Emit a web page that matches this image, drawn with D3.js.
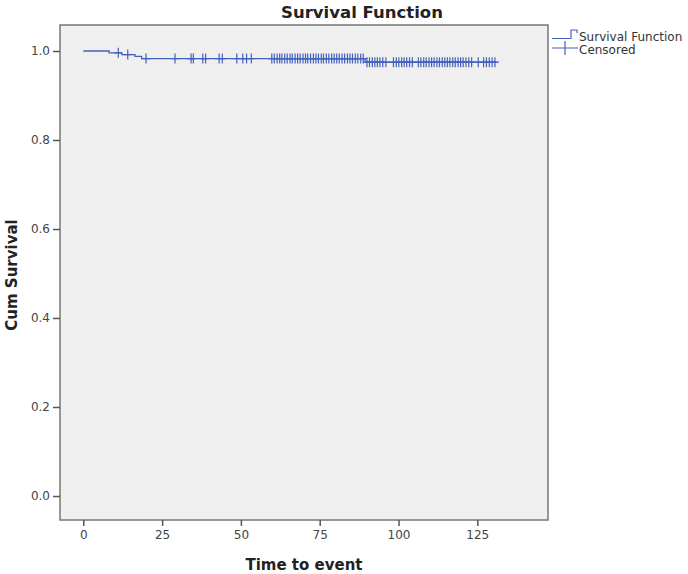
<!DOCTYPE html>
<html><head><meta charset="utf-8">
<script src="https://cdn.jsdelivr.net/npm/d3@7/dist/d3.min.js"></script>
<style>body{margin:0;background:#fff}svg{display:block}</style>
</head><body>
<svg id="c" width="688" height="574"></svg>
<script>
// Kaplan-Meier step data (event times and survival after each event)
const stepTimes = [0, 8.2, 12.2, 16.4, 18.5, 89.4];
const stepSurv  = [1.0, 0.996, 0.992, 0.988, 0.983, 0.975];
const endTime = 131.2;
// Censored observation times
const censorTimes = [11.1, 14.1, 19.9, 29.1, 34.2, 34.9, 37.9, 38.8, 43.1, 44.1, 48.7, 50.6, 51.8, 53.3,
  59.8, 60.6, 61.5, 62.3, 63.0, 63.9, 64.7, 65.6, 66.3, 67.2, 68.0, 68.8, 69.7, 70.5, 71.2, 72.1, 73.0,
  73.8, 74.6, 75.5, 76.2, 77.1, 77.9, 78.8, 79.6, 80.4, 81.2, 82.1, 82.9, 83.8, 84.6, 85.4, 86.3, 87.1, 88.0, 88.8,
  90.0, 90.8, 91.7, 92.5, 93.3, 94.1, 95.0, 96.0, 98.4, 99.3, 100.1, 101.0, 101.8, 102.6, 103.5, 104.4,
  106.3, 107.1, 108.0, 108.8, 109.7, 110.5, 111.3, 112.2, 113.0, 113.9, 114.7, 115.5, 116.3, 117.2, 118.0, 118.9, 119.7, 120.5, 121.4, 122.3, 123.2,
  125.3, 127.0, 127.9, 128.8, 129.7, 130.6];
const xTicks = [0, 25, 50, 75, 100, 125];
const yTicks = [0.0, 0.2, 0.4, 0.6, 0.8, 1.0];
const title = "Survival Function";
const xLabel = "Time to event";
const yLabel = "Cum Survival";
const legendItems = ["Survival Function", "Censored"];

const col = "#4462bd";
const font = "DejaVu Sans, sans-serif";
const svg = d3.select("#c");
const frame = {l: 60, r: 548, t: 25, b: 520};
const x = d3.scaleLinear().domain([0, 125]).range([83.3, 477.3]);
const y = d3.scaleLinear().domain([0, 1]).range([496, 51]);

svg.append("rect").attr("x", frame.l).attr("y", frame.t)
  .attr("width", frame.r - frame.l).attr("height", frame.b - frame.t)
  .attr("fill", "#efefef").attr("stroke", "#777").attr("stroke-width", 1.5);

// axes
const xa = svg.append("g").attr("transform", `translate(0,${frame.b})`)
  .call(d3.axisBottom(x).tickValues(xTicks).tickSize(6).tickPadding(4).tickFormat(d3.format("d")));
const ya = svg.append("g").attr("transform", `translate(${frame.l},0)`)
  .call(d3.axisLeft(y).tickValues(yTicks).tickSize(7).tickPadding(3).tickFormat(d3.format(".1f")));
[xa, ya].forEach(a => {
  a.select(".domain").remove();
  a.selectAll("line").attr("stroke", "#555").attr("stroke-width", 1.5);
  a.selectAll("text").attr("fill", "#444").style("font-family", font).style("font-size", "12px");
});

// step curve
function survAt(t) {
  let s = stepSurv[0];
  for (let i = 0; i < stepTimes.length; i++) if (stepTimes[i] <= t) s = stepSurv[i];
  return s;
}
const pts = [];
for (let i = 0; i < stepTimes.length; i++) {
  if (i > 0) pts.push([stepTimes[i], stepSurv[i - 1]]);
  pts.push([stepTimes[i], stepSurv[i]]);
}
pts.push([endTime, stepSurv[stepSurv.length - 1]]);
svg.append("path").datum(pts)
  .attr("d", d3.line().x(d => x(d[0])).y(d => y(d[1])))
  .attr("fill", "none").attr("stroke", col).attr("stroke-width", 1.3);

// censor marks
svg.append("g").selectAll("path").data(censorTimes).join("path")
  .attr("d", t => {
    const cx = x(t), cy = y(survAt(t));
    return `M${cx - 4},${cy}H${cx + 4}M${cx},${cy - 5}V${cy + 5}`;
  })
  .attr("stroke", col).attr("stroke-width", 1.2).attr("fill", "none");

// title and labels
svg.append("text").attr("x", 362).attr("y", 18).attr("text-anchor", "middle")
  .style("font-family", font).style("font-weight", "bold").style("font-size", "16.5px")
  .attr("fill", "#222").text(title);
svg.append("text").attr("x", 304).attr("y", 570).attr("text-anchor", "middle")
  .style("font-family", font).style("font-weight", "bold").style("font-size", "15px")
  .attr("fill", "#222").text(xLabel);
svg.append("text").attr("transform", "translate(17,275) rotate(-90)").attr("text-anchor", "middle")
  .style("font-family", font).style("font-weight", "bold").style("font-size", "15px")
  .attr("fill", "#222").text(yLabel);

// legend
const lg = svg.append("g");
lg.append("path").attr("d", "M552,38.5H571V30H577V33").attr("stroke", col).attr("fill", "none").attr("stroke-width", 1.2);
lg.append("path").attr("d", "M552,48H578M565,41V55").attr("stroke", col).attr("fill", "none").attr("stroke-width", 1.2);
legendItems.forEach((s, i) => {
  lg.append("text").attr("x", 579).attr("y", 41 + i * 13)
    .style("font-family", font).style("font-size", "12px").attr("fill", "#333").text(s);
});
</script>
</body></html>
